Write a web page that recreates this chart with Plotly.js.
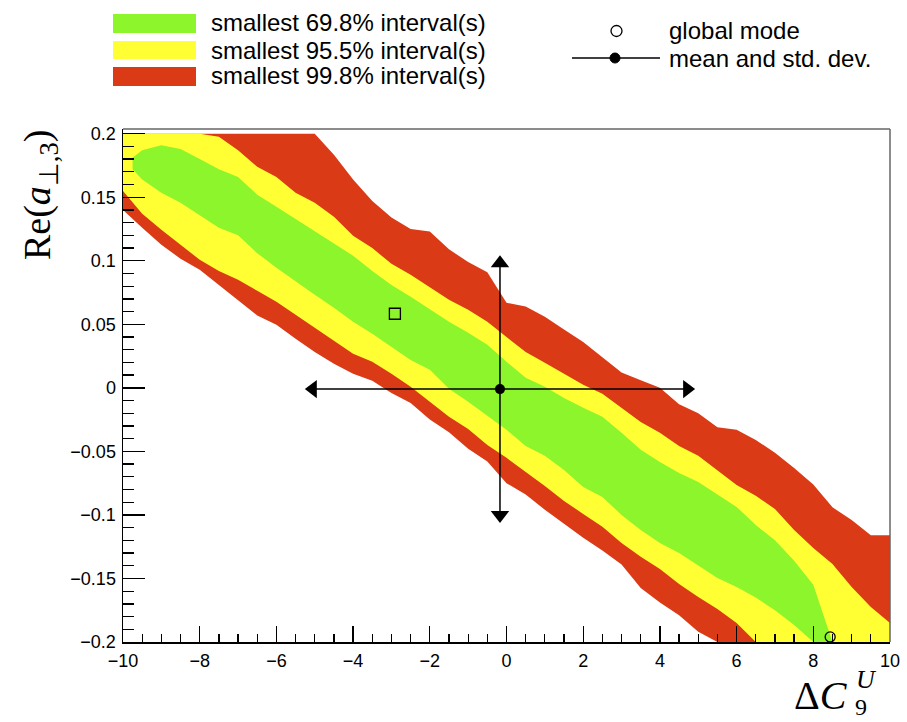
<!DOCTYPE html>
<html>
<head>
<meta charset="utf-8">
<script src="https://cdn.plot.ly/plotly-3.0.1.min.js"></script>
<style>html,body{margin:0;padding:0;background:#fff;}#chart{width:907px;height:722px;}</style>
</head>
<body>
<div id="chart"></div>
<script>
// ---- data ----
const xs = [-10,-9.5,-9,-8.5,-8,-7.5,-7,-6.5,-6,-5.5,-5,-4.5,-4,-3.5,-3,-2.5,-2,-1.5,-1,-0.5,0,0.5,1,1.5,2,2.5,3,3.5,4,4.5,5,5.5,6,6.5,7,7.5,8,8.5,9,9.5,10];
// 99.8% region (red)
const redUpper = [0.2,0.2,0.2,0.2,0.2,0.2,0.2,0.2,0.2,0.2,0.2,0.1835,0.164,0.147,0.134,0.125,0.123,0.109,0.099,0.091,0.067,0.064,0.056,0.046,0.036,0.024,0.012,0.006,0.0,-0.013,-0.02,-0.031,-0.033,-0.041,-0.051,-0.063,-0.076,-0.094,-0.104,-0.116,-0.116];
const redLower = [0.14,0.126,0.1126,0.1016,0.093,0.081,0.069,0.057,0.0496,0.0386,0.0283,0.0189,0.011,0.0055,-0.004,-0.012,-0.025,-0.035,-0.048,-0.058,-0.075,-0.084,-0.096,-0.107,-0.118,-0.128,-0.139,-0.1575,-0.169,-0.179,-0.192,-0.2,-0.2,-0.2,-0.2,-0.2,-0.2,-0.2,-0.2,-0.2,-0.2];
// 95.5% region (yellow)
const yellowUpper = [0.2,0.2,0.2,0.2,0.2,0.1976,0.187,0.174,0.166,0.1535,0.1457,0.1346,0.1197,0.110,0.0976,0.089,0.0795,0.0693,0.0614,0.052,0.040,0.0283,0.0197,0.011,0.0024,-0.0047,-0.0157,-0.0268,-0.0354,-0.0457,-0.0535,-0.0646,-0.0764,-0.085,-0.0953,-0.1118,-0.126,-0.1386,-0.1567,-0.1724,-0.185];
const yellowLower = [0.155,0.137,0.1244,0.1126,0.1008,0.092,0.085,0.0764,0.0677,0.0575,0.0472,0.037,0.0268,0.0205,0.011,0.0008,-0.011,-0.0228,-0.0323,-0.0449,-0.0551,-0.0661,-0.0772,-0.089,-0.0992,-0.1094,-0.122,-0.133,-0.1425,-0.1543,-0.1646,-0.174,-0.185,-0.2,-0.2,-0.2,-0.2,-0.2,-0.2,-0.2,-0.2];
// 69.8% region (green)
const greenX = [-9.75,-9.5,-9,-8.5,-8,-7.5,-7,-6.5,-6,-5.5,-5,-4.5,-4,-3.5,-3,-2.5,-2,-1.5,-1,-0.5,0,0.5,1,1.5,2,2.5,3,3.5,4,4.5,5,5.5,6,6.5,7,7.5,8,8.5];
const greenUpper = [0.181,0.187,0.191,0.188,0.180,0.172,0.166,0.152,0.1425,0.133,0.1236,0.114,0.104,0.092,0.081,0.0717,0.062,0.052,0.0433,0.0339,0.0205,0.0079,0.0008,-0.0079,-0.0157,-0.0228,-0.0354,-0.0488,-0.0583,-0.067,-0.074,-0.084,-0.0937,-0.108,-0.12,-0.136,-0.155,-0.2];
const greenLower = [0.172,0.164,0.1535,0.1457,0.136,0.126,0.12,0.106,0.0945,0.0835,0.0732,0.063,0.052,0.0425,0.0323,0.022,0.0142,-0.0008,-0.011,-0.022,-0.033,-0.0457,-0.0535,-0.0646,-0.078,-0.0858,-0.100,-0.1118,-0.122,-0.13,-0.140,-0.1496,-0.1567,-0.165,-0.175,-0.1866,-0.2,-0.2];
// markers
const globalMode = {x: 8.44, y: -0.196};
const localMode = {x: -2.91, y: 0.0583};
const meanX = -0.17, meanY = -0.001, sdX = 4.88, sdY = 0.099;
const legendLabels = ["smallest 69.8% interval(s)", "smallest 95.5% interval(s)", "smallest 99.8% interval(s)"];
const markerLabels = ["global mode", "mean and std. dev."];

// ---- styling ----
const GREEN = '#8cf52b', YELLOW = '#ffff33', RED = '#da3b16';
const L = 123, R = 890, T = 129, B = 642;
const px = X => (X - L) / (R - L);
const py = Y => (B - Y) / (B - T);

function band(x, up, lo, color) {
  return {
    type: 'scatter', mode: 'lines',
    x: x.concat(x.slice().reverse()),
    y: up.concat(lo.slice().reverse()),
    fill: 'toself', fillcolor: color,
    line: {width: 0, color: color},
    hoverinfo: 'skip', showlegend: false
  };
}

const traces = [
  band(xs, redUpper, redLower, RED),
  band(xs, yellowUpper, yellowLower, YELLOW),
  band(greenX, greenUpper, greenLower, GREEN),
  {type:'scatter', mode:'markers', x:[localMode.x], y:[localMode.y],
   marker:{symbol:'square-open', size:11, color:'#000', line:{width:1.3}}, showlegend:false, hoverinfo:'skip'},
  {type:'scatter', mode:'markers', x:[globalMode.x], y:[globalMode.y], cliponaxis:false,
   marker:{symbol:'circle-open', size:10, color:'#000', line:{width:1.3}}, showlegend:false, hoverinfo:'skip'},
  {type:'scatter', mode:'lines', x:[meanX - sdX, meanX + sdX], y:[meanY, meanY],
   line:{color:'#000', width:1.5}, showlegend:false, hoverinfo:'skip'},
  {type:'scatter', mode:'lines', x:[meanX, meanX], y:[meanY - sdY, meanY + sdY],
   line:{color:'#000', width:1.5}, showlegend:false, hoverinfo:'skip'},
  {type:'scatter', mode:'markers',
   x:[meanX - sdX, meanX + sdX, meanX, meanX],
   y:[meanY, meanY, meanY + sdY, meanY - sdY],
   marker:{symbol:['triangle-left','triangle-right','triangle-up','triangle-down'], size:16, color:'#000'},
   showlegend:false, hoverinfo:'skip'},
  {type:'scatter', mode:'markers', x:[meanX], y:[meanY],
   marker:{symbol:'circle', size:10, color:'#000'}, showlegend:false, hoverinfo:'skip'}
];

const legFont = {family:'Liberation Sans, Arial, sans-serif', size:24, color:'#000'};
const rowsY = [23, 50, 76];
const colors = [GREEN, YELLOW, RED];
const rectY = [[14,33],[41,59],[67,86]];
const shapes = [];
const annotations = [];
for (let i = 0; i < 3; i++) {
  shapes.push({type:'rect', xref:'paper', yref:'paper', x0:px(113), x1:px(196), y0:py(rectY[i][1]), y1:py(rectY[i][0]),
    fillcolor:colors[i], line:{width:0}, layer:'above'});
  annotations.push({xref:'paper', yref:'paper', x:px(209), y:py(rowsY[i]), xanchor:'left', yanchor:'middle',
    text:legendLabels[i], showarrow:false, font:legFont});
}
shapes.push({type:'circle', xref:'paper', yref:'paper', x0:px(611), x1:px(622), y0:py(36.5), y1:py(25.5),
  line:{color:'#000', width:1.3}, fillcolor:'#fff'});
shapes.push({type:'line', xref:'paper', yref:'paper', x0:px(572), x1:px(660), y0:py(58), y1:py(58),
  line:{color:'#000', width:1.5}});
shapes.push({type:'circle', xref:'paper', yref:'paper', x0:px(610), x1:px(620), y0:py(63), y1:py(53),
  line:{color:'#000', width:1}, fillcolor:'#000'});
annotations.push({xref:'paper', yref:'paper', x:px(667), y:py(31), xanchor:'left', yanchor:'middle',
  text:markerLabels[0], showarrow:false, font:legFont});
annotations.push({xref:'paper', yref:'paper', x:px(667), y:py(58), xanchor:'left', yanchor:'middle',
  text:markerLabels[1], showarrow:false, font:legFont});

// frame (top and right, grey)
shapes.push({type:'line', xref:'paper', yref:'paper', x0:0, x1:1, y0:1, y1:1, line:{color:'#666', width:1.5}});
shapes.push({type:'line', xref:'paper', yref:'paper', x0:1, x1:1, y0:0, y1:1, line:{color:'#666', width:1.5}});

// axis titles
const serif = 'Liberation Serif, Times New Roman, serif';
annotations.push({xref:'paper', yref:'paper', x:px(40), y:py(195), xanchor:'center', yanchor:'middle', textangle:-90,
  text:'Re(<i>a</i><sub>⊥,3</sub>)', showarrow:false, font:{family:serif, size:38, color:'#000'}});
annotations.push({xref:'paper', yref:'paper', x:px(850), y:py(696), xanchor:'right', yanchor:'middle',
  text:'Δ<i>C</i>', showarrow:false, font:{family:serif, size:40, color:'#000'}});
annotations.push({xref:'paper', yref:'paper', x:px(853), y:py(722), xanchor:'left', yanchor:'bottom',
  text:'9', showarrow:false, font:{family:serif, size:24, color:'#000'}});
annotations.push({xref:'paper', yref:'paper', x:px(854), y:py(696), xanchor:'left', yanchor:'bottom',
  text:'<i>U</i>', showarrow:false, font:{family:serif, size:26, color:'#000'}});

const tickFont = {family:'Liberation Sans, Arial, sans-serif', size:18, color:'#000'};
const layout = {
  width:907, height:722,
  margin:{l:L, r:907 - R, t:T, b:722 - B, pad:0},
  paper_bgcolor:'#fff', plot_bgcolor:'#fff',
  showlegend:false,
  xaxis:{range:[-10,10], tick0:0, dtick:2, ticks:'inside', ticklen:16, tickwidth:1.3, tickcolor:'#000',
    minor:{ticks:'inside', ticklen:8, dtick:0.5, tickwidth:1.3, tickcolor:'#000'},
    showline:true, mirror:false, linecolor:'#000', linewidth:1.5, showgrid:false, zeroline:false,
    tickfont:tickFont, ticklabelstandoff:2},
  yaxis:{range:[-0.2,0.2037], tick0:0, dtick:0.05, ticks:'inside', ticklen:22, tickwidth:1.3, tickcolor:'#000',
    minor:{ticks:'inside', ticklen:11, dtick:0.01, tickwidth:1.3, tickcolor:'#000'},
    showline:true, mirror:false, linecolor:'#000', linewidth:1.5, showgrid:false, zeroline:false,
    tickfont:tickFont, ticklabelstandoff:2},
  shapes:shapes, annotations:annotations
};
Plotly.newPlot('chart', traces, layout, {displayModeBar:false, staticPlot:true});
</script>
</body>
</html>
